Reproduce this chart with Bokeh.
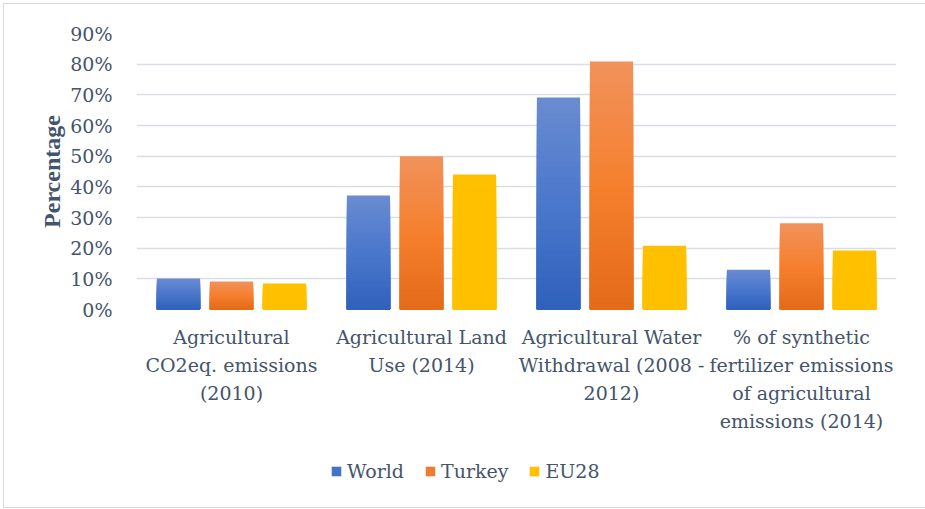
from bokeh.plotting import figure
from bokeh.layouts import column
from bokeh.models import (ColumnDataSource, FactorRange, Range1d, FixedTicker,
                          NumeralTickFormatter, Legend, LegendItem)
from bokeh.transform import dodge
from bokeh.embed import file_html
from bokeh.resources import INLINE

# ---- data ----
categories = [
    "Agricultural\nCO2eq. emissions\n(2010)",
    "Agricultural Land\nUse (2014)",
    "Agricultural Water\nWithdrawal (2008 -\n2012)",
    "% of synthetic\nfertilizer emissions\nof agricultural\nemissions (2014)",
]
series_names = ["World", "Turkey", "EU28"]
world = [0.101, 0.372, 0.691, 0.130]
turkey = [0.091, 0.500, 0.809, 0.281]
eu28 = [0.085, 0.440, 0.208, 0.192]
y_ticks = [0.0, 0.1, 0.2, 0.3, 0.4, 0.5, 0.6, 0.7, 0.8, 0.9]

# ---- style ----
FONT = "DejaVu Serif"
FONT_BOLD = "Liberation Serif"
TXT = "#44546a"
GRID = "#dadee4"
GRADS = {
    "World": ["#6a8bd0", "#4a78cc", "#2f60bb"],
    "Turkey": ["#f1925c", "#f5802e", "#e36a18"],
    "EU28": ["#ffc000", "#ffc000", "#ffc000"],
}
LEGEND_COLORS = {"World": "#4472c4", "Turkey": "#ed7d31", "EU28": "#ffc000"}
N = 40
offsets = [-0.279, 0.0, 0.279]
bar_w = 0.227


def hex2rgb(h):
    h = h.lstrip("#")
    return [int(h[i:i + 2], 16) for i in (0, 2, 4)]


def grad_color(stops, t):
    top, mid, bot = [hex2rgb(s) for s in stops]
    if t < 0.5:
        a, b, f = bot, mid, t / 0.5
    else:
        a, b, f = mid, top, (t - 0.5) / 0.5
    c = [round(a[k] + (b[k] - a[k]) * f) for k in range(3)]
    return "#%02x%02x%02x" % tuple(c)


p = figure(
    x_range=FactorRange(*categories, range_padding=0.0),
    y_range=Range1d(0, 0.9),
    width=921, height=445,
    output_backend="svg", toolbar_location=None,
    min_border_left=132, min_border_right=29,
    min_border_top=29, min_border_bottom=140,
    outline_line_color=None,
    background_fill_color="white", border_fill_color="white",
)
p.x_range.factor_padding = 0.0

for name, vals, off in zip(series_names, [world, turkey, eu28], offsets):
    xs, tops, cols = [], [], []
    for j in range(N - 1, -1, -1):
        for c, v in zip(categories, vals):
            xs.append(c)
            tops.append(v * (j + 1) / N)
            cols.append(grad_color(GRADS[name], (j + 0.5) / N))
    src = ColumnDataSource(dict(x=xs, top=tops, color=cols))
    p.vbar(x=dodge("x", off, range=p.x_range), width=bar_w,
           bottom=0, top="top", source=src,
           fill_color="color", line_color=None)

p.yaxis.ticker = FixedTicker(ticks=y_ticks)
p.yaxis.formatter = NumeralTickFormatter(format="0%")
p.yaxis.axis_line_color = None
p.yaxis.major_tick_line_color = None
p.yaxis.minor_tick_line_color = None
p.yaxis.major_label_standoff = 18
p.yaxis.major_label_text_font = FONT
p.yaxis.major_label_text_font_size = "19px"
p.yaxis.major_label_text_color = TXT
p.yaxis.axis_label = "Percentage"
p.yaxis.axis_label_text_font = FONT_BOLD
p.yaxis.axis_label_text_font_size = "24px"
p.yaxis.axis_label_text_font_style = "bold"
p.yaxis.axis_label_text_color = TXT
p.yaxis.axis_label_standoff = 2

p.xaxis.axis_line_color = None
p.xaxis.major_tick_line_color = None
p.xaxis.minor_tick_line_color = None
p.xaxis.major_label_standoff = 10
p.xaxis.major_label_text_font = FONT
p.xaxis.major_label_text_font_size = "19px"
p.xaxis.major_label_text_color = TXT
p.xaxis.major_label_text_line_height = 1.28
p.xaxis.major_label_orientation = "horizontal"

p.xgrid.grid_line_color = None
p.ygrid.grid_line_color = GRID
p.ygrid.grid_line_width = 1.3

# legend strip below the chart (frames of the column are aligned)
q = figure(width=921, height=58, x_range=Range1d(0, 1), y_range=Range1d(0, 1),
           output_backend="svg", toolbar_location=None,
           x_axis_location=None, y_axis_location=None,
           min_border=0, outline_line_color=None,
           background_fill_color="white", border_fill_color="white")
q.xgrid.visible = False
q.ygrid.visible = False
items = []
for n in series_names:
    # zero-size glyph: only its legend swatch is shown
    r = q.vbar(x=[0.5], bottom=[0.5], top=[0.5], width=0,
               fill_color=LEGEND_COLORS[n], line_color=None)
    items.append(LegendItem(label=n, renderers=[r]))
legend = Legend(items=items, orientation="horizontal", location=(194, 25),
                glyph_width=12, glyph_height=12, label_standoff=5, spacing=20,
                padding=0, margin=0, border_line_color=None,
                background_fill_alpha=0,
                label_text_font=FONT, label_text_font_size="19px",
                label_text_color=TXT)
q.add_layout(legend, "center")

layout = column(p, q, spacing=0,
                styles={"border": "1px solid #d9d9d9", "margin-left": "3px", "margin-top": "3px"})

open("out.html", "w").write(file_html(layout, INLINE))
